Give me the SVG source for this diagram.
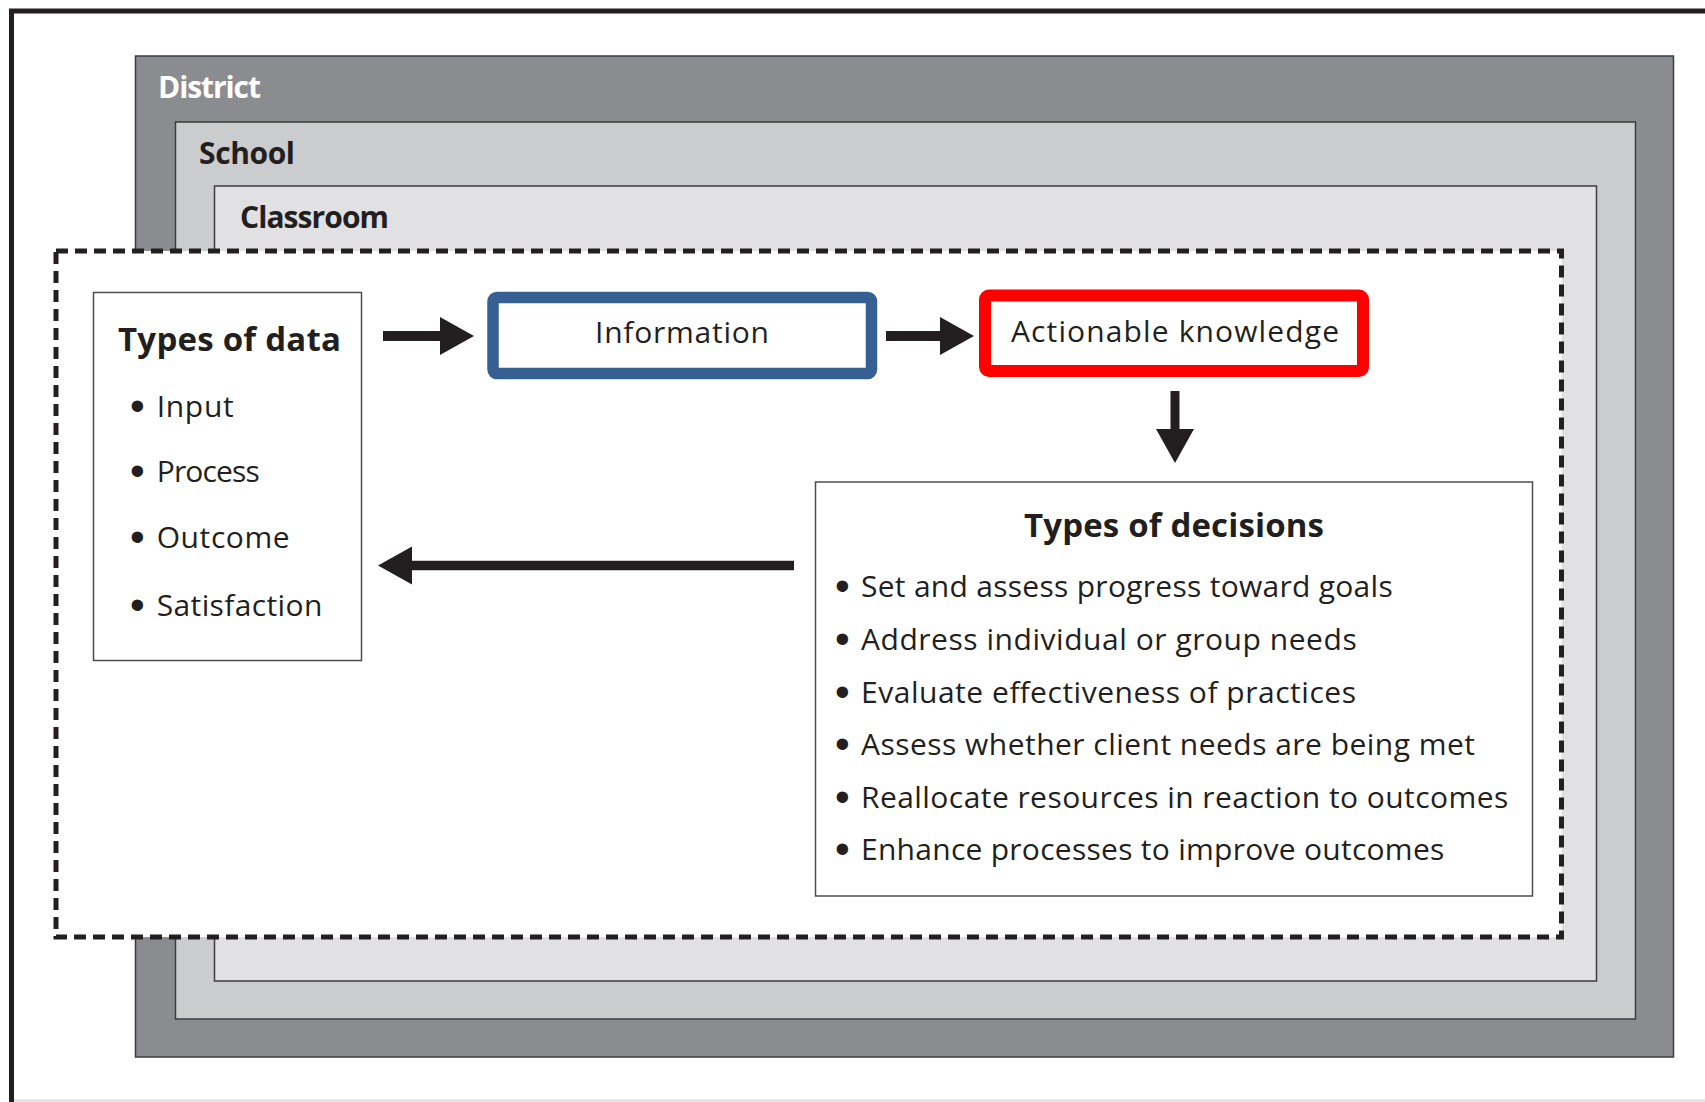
<svg xmlns="http://www.w3.org/2000/svg" width="1705" height="1102" viewBox="0 0 1705 1102">
<defs>
<style>
text{font-family:"Open Sans","Noto Sans","Liberation Sans",sans-serif;fill:#231f20}
.lvl{font-weight:700;font-size:30px}
.ttl{font-weight:700;font-size:33px}
.itm{font-size:30px}
text.bul{font-family:"Liberation Sans",Arial,sans-serif;font-size:42px}
.box{fill:#fff;stroke:#4d4d4d;stroke-width:1.5}
.sh{stroke:#231f20;stroke-width:10;fill:none;marker-end:url(#ah)}
</style>
<marker id="ah" markerUnits="userSpaceOnUse" markerWidth="36" markerHeight="40" refX="0" refY="19" orient="auto" viewBox="0 0 36 40">
<path d="M0,0 L34,19 L0,38 Z" fill="#231f20"/>
</marker>
</defs>
<rect width="1705" height="1102" fill="#fff"/>
<g id="frame">
<path d="M11.5,1102 V11 H1705" fill="none" stroke="#231f20" stroke-width="5"/>
<line x1="14" y1="1100.5" x2="1705" y2="1100.5" stroke="#dcdcdc" stroke-width="2"/>
</g>
<g id="district">
<rect x="135.5" y="56" width="1538" height="1001" fill="#8b8c90" stroke="#3d3d3f" stroke-width="1.5"/>
<text class="lvl" x="158" y="98" textLength="103" style="fill:#fff">District</text>
</g>
<g id="school">
<rect x="175.5" y="122" width="1460" height="897" fill="#cbcccd" stroke="#3d3d3f" stroke-width="1.5"/>
<text class="lvl" x="199" y="164" textLength="96">School</text>
</g>
<g id="classroom">
<rect x="214.5" y="186" width="1382" height="795" fill="#e1e1e3" stroke="#3d3d3f" stroke-width="1.5"/>
<text class="lvl" x="240" y="228" textLength="149">Classroom</text>
</g>
<g id="scope">
<rect x="56" y="251" width="1505.5" height="686" fill="#fff" stroke="#231f20" stroke-width="5" stroke-dasharray="12 7"/>
</g>
<g id="types-of-data">
<rect class="box" x="93.5" y="292.5" width="268" height="368"/>
<text class="ttl" x="118" y="351" textLength="223">Types of data</text>
<text class="bul" x="130" y="419.7">•</text>
<text class="itm" x="156.7" y="416.7" textLength="77">Input</text>
<text class="bul" x="130" y="485">•</text>
<text class="itm" x="156.7" y="482" textLength="103">Process</text>
<text class="bul" x="130" y="551">•</text>
<text class="itm" x="156.7" y="548" textLength="133">Outcome</text>
<text class="bul" x="130" y="618.5">•</text>
<text class="itm" x="156.7" y="615.5" textLength="165.6">Satisfaction</text>
</g>
<g id="information">
<rect x="493" y="297.5" width="378.5" height="76" rx="4" fill="#fff" stroke="#376092" stroke-width="11.5"/>
<text class="itm" x="595" y="343" textLength="174">Information</text>
</g>
<g id="actionable-knowledge">
<rect x="985" y="295.5" width="378" height="75.5" rx="4" fill="#fff" stroke="#ff0000" stroke-width="12"/>
<text class="itm" x="1011" y="342" textLength="328">Actionable knowledge</text>
</g>
<g id="types-of-decisions">
<rect class="box" x="815.5" y="482" width="717" height="414"/>
<text class="ttl" x="1024" y="537" textLength="300">Types of decisions</text>
<text class="bul" x="835" y="600">•</text>
<text class="itm" x="861" y="597" textLength="531.7">Set and assess progress toward goals</text>
<text class="bul" x="835" y="653">•</text>
<text class="itm" x="861" y="650" textLength="495.7">Address individual or group needs</text>
<text class="bul" x="835" y="706.3">•</text>
<text class="itm" x="861" y="703.3" textLength="495">Evaluate effectiveness of practices</text>
<text class="bul" x="835" y="758">•</text>
<text class="itm" x="861" y="755" textLength="614">Assess whether client needs are being met</text>
<text class="bul" x="835" y="811.3">•</text>
<text class="itm" x="861" y="808.3" textLength="647.3">Reallocate resources in reaction to outcomes</text>
<text class="bul" x="835" y="863">•</text>
<text class="itm" x="861" y="860" textLength="583.3">Enhance processes to improve outcomes</text>
</g>
<g id="connectors">
<line class="sh" x1="383" y1="336" x2="440" y2="336"/>
<line class="sh" x1="886" y1="336" x2="940" y2="336"/>
<line class="sh" x1="1175" y1="391" x2="1175" y2="429" style="stroke-width:9"/>
<line class="sh" x1="794" y1="565.5" x2="412" y2="565.5" style="stroke-width:9.5"/>
</g>
</svg>
